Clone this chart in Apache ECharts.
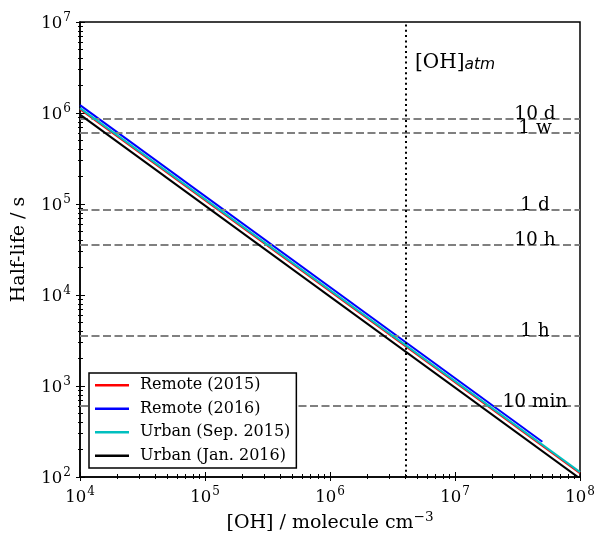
<!DOCTYPE html>
<html>
<head>
<meta charset="utf-8">
<script src="https://cdn.jsdelivr.net/npm/echarts@6/dist/echarts.min.js"></script>
<style>
html,body{margin:0;padding:0;background:#fff;}
#chart{width:598px;height:538px;}
</style>
</head>
<body>
<div id="chart"></div>
<script>
// ---- Data ----
const seriesNames = ['Remote (2015)', 'Remote (2016)', 'Urban (Sep. 2015)', 'Urban (Jan. 2016)'];
const seriesColors = ['#ff0000', '#0000ff', '#00bfbf', '#000000'];
// [OH] endpoints (molecule cm^-3) and half-life (s)
const remote2015X = [1e4, 1e8];
const remote2015Y = [1.10e6, 110];
const remote2016X = [1e4, 5e7];
const remote2016Y = [1.22e6, 244];
const urbanSep2015X = [1e4, 1e8];
const urbanSep2015Y = [1.13e6, 113];
const urbanJan2016X = [1e4, 1e8];
const urbanJan2016Y = [9.6e5, 96];

// reference half-lives (s)
const refLabels = ['10 d', '1 w', '1 d', '10 h', '1 h', '10 min'];
const refValues = [864000, 604800, 86400, 36000, 3600, 600];
// atmospheric [OH]
const ohAtm = 4e6;

const xMin = 1e4, xMax = 1e8, yMin = 1e2, yMax = 1e7;

function minorTicks(lo, hi) {
  const out = [];
  for (let d = lo; d < hi; d *= 10) {
    for (let k = 2; k <= 9; k++) out.push(d * k);
  }
  return out;
}
const xMinor = minorTicks(xMin, xMax);
const yMinor = minorTicks(yMin, yMax);

const FONT = 'DejaVu Serif';
const supFmt = v => {
  const e = Math.round(Math.log10(v));
  return '{b|10}{s|' + e + '}';
};
const labelRich = {
  b: {fontFamily: FONT, fontSize: 16.5, color: '#000', verticalAlign: 'bottom', lineHeight: 20},
  s: {fontFamily: FONT, fontSize: 12, color: '#000', verticalAlign: 'bottom', lineHeight: 20, padding: [0, 0, 8, 1]}
};

function pairs(xs, ys) { return xs.map((x, i) => [x, ys[i]]); }
const seriesData = [
  pairs(remote2015X, remote2015Y),
  pairs(remote2016X, remote2016Y),
  pairs(urbanSep2015X, urbanSep2015Y),
  pairs(urbanJan2016X, urbanJan2016Y)
];

function makeAxes(kind) {
  const isX = kind === 'x';
  const lo = isX ? xMin : yMin, hi = isX ? xMax : yMax;
  const minor = isX ? xMinor : yMinor;
  const base = {type: 'log', logBase: 10, min: lo, max: hi, gridIndex: 0,
    position: isX ? 'bottom' : 'left', splitLine: {show: false}, minorSplitLine: {show: false}};
  const main = Object.assign({}, base, {
    axisLine: {show: true, lineStyle: {color: '#000', width: 1.5}},
    axisTick: {show: true, inside: false, length: 4, lineStyle: {color: '#000', width: 1}},
    axisLabel: {show: true, formatter: supFmt, rich: labelRich, margin: 9},
    name: isX ? '[OH] / molecule cm{s|\u22123}' : 'Half-life / s',
    nameLocation: 'middle',
    nameGap: isX ? 33 : 51,
    nameTextStyle: isX ? {
      fontFamily: FONT, fontSize: 19, color: '#000',
      rich: {
        s: {fontFamily: FONT, fontSize: 13.5, color: '#000', padding: [0, 0, 10, 0], verticalAlign: 'bottom'}
      }
    } : {fontFamily: FONT, fontSize: 19, color: '#000'}
  });
  const majorIn = Object.assign({}, base, {
    axisLine: {show: false},
    axisTick: {show: true, inside: true, length: 5, lineStyle: {color: '#000', width: 1}},
    axisLabel: {show: false}
  });
  const minorIn = Object.assign({}, base, {
    axisLine: {show: false},
    axisTick: {show: true, inside: true, length: 3, customValues: minor, lineStyle: {color: '#000', width: 1}},
    axisLabel: {show: false}
  });
  const minorOut = Object.assign({}, base, {
    axisLine: {show: false},
    axisTick: {show: true, inside: false, length: 2, customValues: minor, lineStyle: {color: '#000', width: 1}},
    axisLabel: {show: false}
  });
  return [main, majorIn, minorIn, minorOut];
}

const refLines = refValues.map((v, i) => ({
  yAxis: v,
  lineStyle: {color: '#808080', width: 2, type: [8, 3.5]},
  label: {
    show: true,
    position: 'insideEndTop',
    distance: [0, -5],
    formatter: '{t|' + refLabels[i] + '}',
    rich: {t: {width: 90, align: 'center', fontFamily: FONT, fontSize: 18.5, color: '#000'}}
  }
}));
const ohLine = {
  xAxis: ohAtm,
  lineStyle: {color: '#000', width: 2, type: [2, 3.3]},
  label: {show: false}
};

const series = seriesNames.map((name, i) => {
  const s = {
    name: name,
    type: 'line',
    data: seriesData[i],
    xAxisIndex: 0,
    yAxisIndex: 0,
    symbol: 'none',
    lineStyle: {color: seriesColors[i], width: 2},
    itemStyle: {color: seriesColors[i]},
    color: seriesColors[i],
    z: 3 + i,
    animation: false
  };
  if (i === 0) {
    s.markLine = {
      silent: true,
      symbol: ['none', 'none'],
      animation: false,
      data: refLines.concat([ohLine])
    };
  }
  return s;
});

const chart = echarts.init(document.getElementById('chart'), null, {renderer: 'canvas'});
chart.setOption({
  animation: false,
  backgroundColor: '#fff',
  grid: {
    left: 80, right: 18, top: 22, bottom: 61,
    show: true, borderColor: '#000', borderWidth: 1.5, backgroundColor: 'transparent',
    outerBoundsMode: 'none', containLabel: false
  },
  xAxis: makeAxes('x'),
  yAxis: makeAxes('y'),
  legend: {
    show: true,
    orient: 'vertical',
    left: 89, top: 373,
    data: seriesNames,
    icon: 'rect',
    selectedMode: false,
    backgroundColor: '#fff',
    borderColor: '#000',
    borderWidth: 1.5,
    borderRadius: 0,
    padding: [4, 6, 4, 6],
    itemGap: 7,
    itemWidth: 34,
    itemHeight: 2.5,
    textStyle: {fontFamily: FONT, fontSize: 16, color: '#000', padding: [0, 0, 0, 6], lineHeight: 16.5},
    z: 10
  },
  graphic: [{
    type: 'text',
    left: 415, top: 53,
    z: 10,
    style: {
      text: '[OH]{s|atm}',
      fontFamily: FONT, fontSize: 20, fill: '#000',
      rich: {
        s: {fontFamily: 'DejaVu Sans', fontStyle: 'italic', fontSize: 15.5, fill: '#000', verticalAlign: 'bottom', padding: [0, 0, 0, 0]}
      }
    }
  }],
  series: series
});
</script>
</body>
</html>
